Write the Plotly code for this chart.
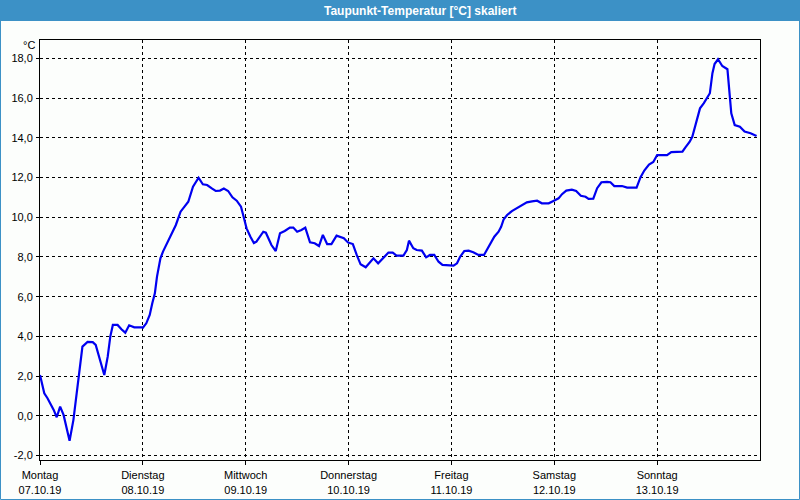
import plotly.graph_objects as go

# ---- data (hours since Monday 07.10.19 00:00, dew point in °C) ----
hours = [0, 1.0, 1.75, 2.5, 3.2, 3.9, 4.7, 5.5, 6.2, 6.9, 7.8, 8.8, 9.9, 11.1, 12.3, 13.0,
         13.8, 15.0, 15.8, 16.4, 17.0, 18.1, 19.0, 19.9, 20.8, 22.0, 23.6, 24.0, 24.8, 25.6,
         26.2, 26.8, 27.3, 28.1, 28.7, 29.6, 30.7, 31.7, 32.8, 33.8, 34.6, 35.7, 36.5, 37.0,
         38.0, 39.0, 40.0, 41.0, 42.0, 42.9, 43.9, 44.9, 45.9, 46.9, 47.6, 48.2, 49.1, 49.9,
         50.5, 52.1, 52.7, 54.0, 55.0, 56.0, 57.1, 58.3, 59.1, 60.0, 61.0, 61.9, 63.0, 64.1,
         65.1, 66.0, 67.0, 68.0, 69.2, 70.2, 70.9, 71.9, 73.0, 73.9, 74.8, 76.0, 77.0, 77.8,
         78.9, 80.1, 81.3, 82.3, 83.2, 84.8, 85.6, 86.1, 87.1, 87.9, 89.1, 90.1, 91.0, 92.0,
         93.0, 93.9, 95.3, 96.5, 97.3, 98.0, 99.0, 100.0, 101.1, 102.3, 103.6, 104.3, 105.1,
         106.0, 107.0, 107.6, 108.2, 109.0, 110.1, 111.3, 112.5, 113.6, 114.8, 116.0, 117.1,
         118.7, 119.8, 121.0, 121.8, 122.8, 124.1, 125.1, 126.2, 127.3, 128.0, 129.1, 130.0,
         131.0, 132.3, 133.1, 134.0, 135.8, 137.0, 139.2, 140.1, 141.0, 142.1, 143.1, 144.0,
         145.2, 146.3, 147.3, 148.7, 149.9, 150.6, 151.6, 152.2, 153.0, 154.0, 154.9, 155.7,
         156.3, 156.9, 157.4, 158.2, 159.2, 160.4, 160.8, 161.3, 162.1, 163.3, 164.4, 165.8,
         167.2]
dewpoint = [2.06, 1.14, 0.89, 0.60, 0.30, -0.07, 0.47, 0.05, -0.62, -1.25, -0.20, 1.64, 3.49,
            3.72, 3.71, 3.57, 2.98, 2.06, 2.98, 3.99, 4.58, 4.58, 4.36, 4.19, 4.56, 4.46, 4.46,
            4.44, 4.66, 5.08, 5.67, 6.17, 7.01, 7.93, 8.27, 8.69, 9.16, 9.61, 10.28, 10.53,
            10.78, 11.54, 11.84, 11.99, 11.66, 11.62, 11.46, 11.32, 11.34, 11.44, 11.32, 11.00,
            10.83, 10.53, 9.95, 9.44, 9.02, 8.70, 8.77, 9.27, 9.22, 8.60, 8.30, 9.19, 9.31,
            9.48, 9.48, 9.27, 9.36, 9.48, 8.74, 8.69, 8.55, 9.11, 8.65, 8.65, 9.07, 8.97, 8.94,
            8.72, 8.65, 8.10, 7.63, 7.48, 7.71, 7.93, 7.68, 7.93, 8.22, 8.22, 8.07, 8.07, 8.35,
            8.82, 8.44, 8.35, 8.32, 7.98, 8.10, 8.10, 7.76, 7.60, 7.56, 7.56, 7.68, 8.00, 8.30,
            8.32, 8.24, 8.10, 8.10, 8.35, 8.69, 9.02, 9.27, 9.52, 9.90, 10.11, 10.31, 10.45,
            10.62, 10.75, 10.80, 10.83, 10.70, 10.70, 10.82, 10.95, 11.16, 11.34, 11.39, 11.32,
            11.08, 11.03, 10.92, 10.93, 11.46, 11.76, 11.78, 11.76, 11.57, 11.57, 11.49, 11.49,
            12.00, 12.35, 12.65, 12.78, 13.13, 13.13, 13.13, 13.28, 13.30, 13.30, 13.52, 13.80,
            14.05, 14.73, 15.48, 15.74, 15.99, 16.24, 17.25, 17.71, 17.95, 17.61, 17.45, 16.40,
            15.23, 14.64, 14.56, 14.31, 14.23, 14.09]

day_ticks = [0, 24, 48, 72, 96, 120, 144]
day_names = ["Montag", "Dienstag", "Mittwoch", "Donnerstag", "Freitag", "Samstag", "Sonntag"]
day_dates = ["07.10.19", "08.10.19", "09.10.19", "10.10.19", "11.10.19", "12.10.19", "13.10.19"]
y_ticks = [-2, 0, 2, 4, 6, 8, 10, 12, 14, 16, 18]
y_labels = [f"{v:.1f}".replace(".", ",") for v in y_ticks]

title_text = "Taupunkt-Temperatur [°C] skaliert"
unit_text = "°C"

# ---- geometry helpers (pixels -> paper coords) ----
W, H = 800, 500
ML, MR, MT, MB = 40, 40, 40, 40
PW, PH = W - ML - MR, H - MT - MB


def px(x):
    return (x - ML) / PW


def py(y):
    return (H - MB - y) / PH


BLUE = "#3c91c6"

fig = go.Figure()
fig.add_trace(go.Scatter(x=hours, y=dewpoint, mode="lines",
                         line=dict(color="#0000f0", width=2.2), hoverinfo="skip"))

fig.update_layout(
    width=W, height=H,
    margin=dict(l=ML, r=MR, t=MT, b=MB, pad=0, autoexpand=False),
    paper_bgcolor="#fcfefc", plot_bgcolor="#fcfefc",
    showlegend=False,
    font=dict(family="Liberation Sans, Arial, sans-serif", size=11, color="#000000"),
    xaxis=dict(range=[0, 168], tickmode="array", tickvals=day_ticks,
               ticktext=[f"{n}<br>{d}" for n, d in zip(day_names, day_dates)],
               showgrid=True, gridcolor="#000000", gridwidth=1, griddash="3px,3px",
               showline=True, linecolor="#000000", linewidth=1, mirror=True,
               ticks="outside", ticklen=4, tickcolor="#000000", zeroline=False,
               ticklabelstandoff=1, automargin=False, fixedrange=True),
    yaxis=dict(range=[-2.22, 18.92], tickmode="array", tickvals=y_ticks, ticktext=y_labels,
               showgrid=True, gridcolor="#000000", gridwidth=1, griddash="3px,3px",
               showline=True, linecolor="#000000", linewidth=1, mirror=True,
               ticks="outside", ticklen=3, tickcolor="#000000", zeroline=False,
               ticklabelstandoff=1, automargin=False, fixedrange=True),
    shapes=[
        dict(type="rect", xref="paper", yref="paper", x0=px(0), x1=px(800), y0=py(21), y1=py(0),
             fillcolor=BLUE, line=dict(width=0), layer="above"),
        dict(type="rect", xref="paper", yref="paper", x0=px(0.5), x1=px(799.5), y0=py(499.5),
             y1=py(0.5), fillcolor="rgba(0,0,0,0)", line=dict(color=BLUE, width=1), layer="above"),
    ],
    annotations=[
        dict(text=f"<b>{title_text}</b>", xref="paper", yref="paper", x=px(420), y=py(10.5),
             xanchor="center", yanchor="middle", showarrow=False,
             font=dict(family="Liberation Sans, Arial, sans-serif", size=12, color="#ffffff")),
        dict(text=unit_text, xref="paper", yref="paper", x=px(29), y=py(45),
             xanchor="center", yanchor="middle", showarrow=False,
             font=dict(family="Liberation Sans, Arial, sans-serif", size=11, color="#000000")),
    ],
)

fig.write_html("out.html")
